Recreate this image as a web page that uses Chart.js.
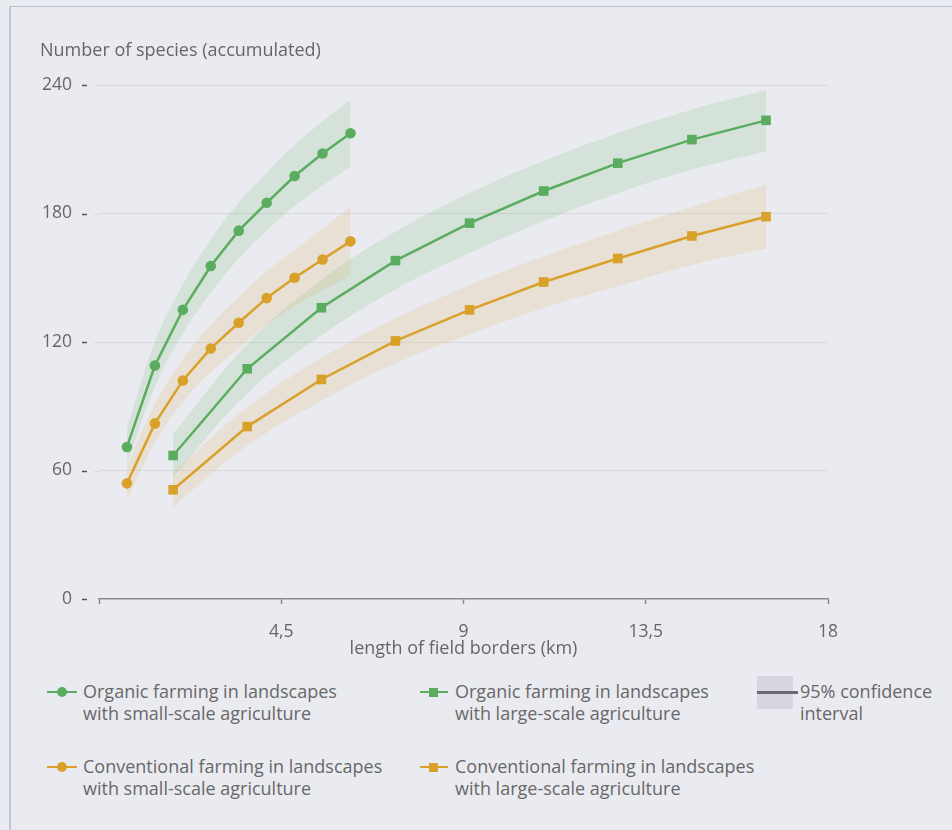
<!DOCTYPE html>
<html>
<head>
<meta charset="utf-8">
<script src="https://cdn.jsdelivr.net/npm/chart.js@4"></script>
<style>
  html, body { margin: 0; padding: 0; background: #eaebf0; }
  body { width: 952px; height: 830px; position: relative; overflow: hidden; font-family: "Open Sans", Lato, sans-serif; }
  #frame { position: absolute; left: 9px; top: 6px; width: 980px; height: 860px;
           border-top: 1.5px solid #b9bfcd; border-left: 2px solid #c3c7d3; }
  #wrap { position: absolute; left: 0; top: 0; width: 952px; height: 660px; }
  .leg { position: absolute; color: #686868; font-size: 18px; line-height: 22px; white-space: nowrap; }
  .icon { position: absolute; }
  .icon .ln { position: absolute; left: 0; height: 2.5px; }
  .icon .mk { position: absolute; }
</style>
</head>
<body>
<div id="frame"></div>
<div id="wrap"><canvas id="c"></canvas></div>

<div class="icon" style="left:47px;top:680px;width:30px;height:24px">
  <div class="ln" style="top:10.75px;width:30px;background:#5aad5e"></div>
  <div class="mk" style="left:10px;top:7px;width:10px;height:10px;border-radius:50%;background:#5aad5e"></div>
</div>
<div class="leg" style="left:83px;top:680px">Organic farming in landscapes<br>with small-scale agriculture</div>

<div class="icon" style="left:420px;top:680px;width:28px;height:24px">
  <div class="ln" style="top:10.75px;width:28px;background:#5aad5e"></div>
  <div class="mk" style="left:9px;top:7.5px;width:9px;height:9px;background:#5aad5e"></div>
</div>
<div class="leg" style="left:455px;top:680px">Organic farming in landscapes<br>with large-scale agriculture</div>

<div class="icon" style="left:757px;top:676px;width:41px;height:33px">
  <div style="position:absolute;left:0;top:0;width:36px;height:33px;background:#d5d6df"></div>
  <div class="ln" style="top:15px;width:41px;background:#6a6a70"></div>
</div>
<div class="leg" style="left:800px;top:680px">95% confidence<br>interval</div>

<div class="icon" style="left:47px;top:755px;width:30px;height:24px">
  <div class="ln" style="top:10.75px;width:30px;background:#d9a02a"></div>
  <div class="mk" style="left:10px;top:7px;width:10px;height:10px;border-radius:50%;background:#d9a02a"></div>
</div>
<div class="leg" style="left:83px;top:755px">Conventional farming in landscapes<br>with small-scale agriculture</div>

<div class="icon" style="left:420px;top:755px;width:28px;height:24px">
  <div class="ln" style="top:10.75px;width:28px;background:#d9a02a"></div>
  <div class="mk" style="left:9px;top:7.5px;width:9px;height:9px;background:#d9a02a"></div>
</div>
<div class="leg" style="left:455px;top:755px">Conventional farming in landscapes<br>with large-scale agriculture</div>

<script>
// Field-border length (km) at which species were accumulated
const xSmall = [0.69, 1.38, 2.07, 2.76, 3.45, 4.14, 4.83, 5.52, 6.21];
const xLarge = [1.83, 3.66, 5.49, 7.32, 9.15, 10.98, 12.81, 14.64, 16.47];

// Organic farming, small-scale landscapes
const orgSmall      = [71, 109, 135, 155.5, 172, 185, 197.5, 208, 217.5];
const orgSmallHigh  = [80, 120, 147, 168, 185, 199, 212, 223, 233];
const orgSmallLow   = [63, 99, 124, 143, 159, 172, 183.5, 193, 202];

// Conventional farming, small-scale landscapes
const convSmall     = [54, 82, 102, 117, 129, 140.5, 150, 158.5, 167];
const convSmallHigh = [62, 91, 112, 128, 141, 153, 163, 173, 183];
const convSmallLow  = [46, 73, 92, 106, 117, 128, 137, 144, 151];

// Organic farming, large-scale landscapes
const orgLarge      = [67, 107.5, 136, 158, 175.5, 190.5, 203.5, 214.5, 223.5];
const orgLargeHigh  = [77, 119, 149, 171.5, 189.5, 204.5, 217.5, 228.5, 237.5];
const orgLargeLow   = [57, 96, 123, 144.5, 161.5, 176.5, 189.5, 200.5, 209];

// Conventional farming, large-scale landscapes
const convLarge     = [51, 80.5, 102.5, 120.5, 135, 148, 159, 169.5, 178.5];
const convLargeHigh = [59, 89.5, 112.5, 131, 146.5, 160, 172, 183, 193.5];
const convLargeLow  = [43, 71.5, 92.5, 110, 123.5, 136, 146, 156, 163.5];

const xTicks = [0, 4.5, 9, 13.5, 18];
const yTicks = [0, 60, 120, 180, 240];

const GREEN = '#5aad5e';
const ORANGE = '#d9a02a';
const GREEN_BAND = 'rgba(90,173,94,0.15)';
const ORANGE_BAND = 'rgba(217,160,42,0.14)';
const FONT = '"Open Sans", Lato, sans-serif';

const pts = (xs, ys) => xs.map((x, i) => ({ x, y: ys[i] }));

function band(xs, hi, lo, color) {
  return [
    { data: pts(xs, hi), borderWidth: 0, pointRadius: 0, tension: 0.4, fill: '+1',
      backgroundColor: color, borderColor: 'transparent', order: 2 },
    { data: pts(xs, lo), borderWidth: 0, pointRadius: 0, tension: 0.4, fill: false,
      borderColor: 'transparent', order: 2 }
  ];
}
function series(xs, ys, color, style, radius) {
  return { data: pts(xs, ys), borderColor: color, backgroundColor: color, borderWidth: 2.5,
    pointStyle: style, pointRadius: radius, pointHoverRadius: radius, pointBorderWidth: 0,
    tension: 0, fill: false, order: 0 };
}

// short dashes beside the value labels, and a stub of each gridline
const yDashes = {
  id: 'yDashes',
  afterDraw(chart) {
    const { ctx, scales: { y }, chartArea } = chart;
    ctx.save();
    yTicks.forEach(v => {
      const py = Math.round(y.getPixelForValue(v)) + 0.5;
      ctx.strokeStyle = '#555';
      ctx.lineWidth = 1.5;
      ctx.beginPath(); ctx.moveTo(chartArea.left - 17, py); ctx.lineTo(chartArea.left - 12, py); ctx.stroke();
      if (v > 0) {
        ctx.strokeStyle = '#d8d9e0';
        ctx.lineWidth = 1;
        ctx.beginPath(); ctx.moveTo(chartArea.left - 5, py); ctx.lineTo(chartArea.left, py); ctx.stroke();
      }
    });
    ctx.restore();
  }
};

new Chart(document.getElementById('c'), {
  type: 'line',
  data: {
    datasets: [
      series(xSmall, orgSmall, GREEN, 'circle', 5.3),
      series(xSmall, convSmall, ORANGE, 'circle', 5.3),
      series(xLarge, orgLarge, GREEN, 'rect', 6.8),
      series(xLarge, convLarge, ORANGE, 'rect', 6.8),
      ...band(xSmall, orgSmallHigh, orgSmallLow, GREEN_BAND),
      ...band(xSmall, convSmallHigh, convSmallLow, ORANGE_BAND),
      ...band(xLarge, orgLargeHigh, orgLargeLow, GREEN_BAND),
      ...band(xLarge, convLargeHigh, convLargeLow, ORANGE_BAND)
    ]
  },
  options: {
    responsive: true,
    maintainAspectRatio: false,
    animation: false,
    events: [],
    layout: { padding: { left: 40, top: 40, right: 124, bottom: 0 } },
    plugins: {
      legend: { display: false },
      tooltip: { enabled: false },
      title: {
        display: true, text: 'Number of species (accumulated)', align: 'start',
        color: '#666', font: { family: FONT, size: 18, weight: 'normal', lineHeight: 1.2 },
        padding: { top: 0, bottom: 23.4 }
      }
    },
    scales: {
      x: {
        type: 'linear', min: 0, max: 18,
        afterBuildTicks(s) { s.ticks = xTicks.map(v => ({ value: v })); },
        afterFit(s) { s.height = 61; },
        border: { display: true, color: '#8a8a8a', width: 1.5 },
        grid: { drawOnChartArea: false, drawTicks: true, tickLength: 5, tickColor: '#8a8a8a', tickWidth: 1.5 },
        ticks: {
          padding: 18, color: '#666', maxRotation: 0,
          font: { family: FONT, size: 17.5, lineHeight: 1.2 },
          callback: v => v === 0 ? '' : String(v).replace('.', ',')
        },
        title: {
          display: true, text: 'length of field borders (km)', color: '#666',
          font: { family: FONT, size: 18, lineHeight: 1.2 }, padding: { top: 0, bottom: 0 }
        }
      },
      y: {
        type: 'linear', min: 0, max: 240,
        afterBuildTicks(s) { s.ticks = yTicks.map(v => ({ value: v })); },
        afterFit(s) { s.width = 59; },
        border: { display: false },
        grid: { drawTicks: false, color: ctx => ctx.tick && ctx.tick.value === 0 ? 'transparent' : '#d8d9e0', lineWidth: 1 },
        ticks: { padding: 27, color: '#666', font: { family: FONT, size: 17.5 } }
      }
    }
  },
  plugins: [yDashes]
});
</script>
</body>
</html>
